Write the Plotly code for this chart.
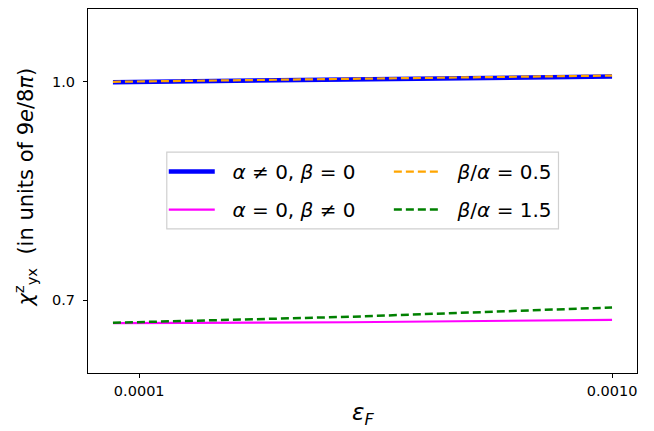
import plotly.graph_objects as go

eps_F = [0.00005, 0.0005, 0.001]
chi_alpha_only = [0.9995, 1.0038, 1.0073]
chi_beta_only = [0.6685, 0.6697, 0.6731]
chi_ratio_05 = [1.0000, 1.0043, 1.0086]
chi_ratio_15 = [0.6690, 0.6772, 0.6900]

x_ticks = [0.0001, 0.0010]
x_tick_labels = ["0.0001", "0.0010"]
y_ticks = [0.7, 1.0]
y_tick_labels = ["0.7", "1.0"]

SP = "\u00a0\u00a0"
names = {
    "a": SP + "<i>α</i> ≠ 0, <i>β</i> = 0",
    "b": SP + "<i>α</i> = 0, <i>β</i> ≠ 0",
    "c": SP + "<i>β</i>/<i>α</i> = 0.5",
    "d": SP + "<i>β</i>/<i>α</i> = 1.5",
}
x_title = "<i>ε<sub>F</sub></i>"
y_title = "<i>χ</i><sup>z</sup><sub>yx</sub>  (in units of 9<i>e</i>/8<i>π</i>)"

FONT = "DejaVu Sans"
fig = go.Figure()
fig.add_trace(go.Scatter(x=eps_F, y=chi_alpha_only, mode="lines", name=names["a"],
                         line=dict(color="#0000ff", width=4.5), legend="legend", legendgroup="a"))
fig.add_trace(go.Scatter(x=eps_F, y=chi_beta_only, mode="lines", name=names["b"],
                         line=dict(color="#ff00ff", width=2.2), legend="legend", legendgroup="b"))
fig.add_trace(go.Scatter(x=eps_F, y=chi_ratio_05, mode="lines", name=names["c"],
                         line=dict(color="#ffa500", width=2.2, dash="8px,4px"), legend="legend2", legendgroup="c"))
fig.add_trace(go.Scatter(x=eps_F, y=chi_ratio_15, mode="lines", name=names["d"],
                         line=dict(color="#008000", width=2.5, dash="8px,4px"), legend="legend2", legendgroup="d"))

leg_common = dict(bgcolor="rgba(0,0,0,0)", borderwidth=0, font=dict(family=FONT, size=20, color="black"),
                  tracegroupgap=9, itemwidth=46, yanchor="top", xanchor="left")
axis_common = dict(showgrid=False, zeroline=False, showline=True, linecolor="black", linewidth=1.2,
                   mirror=True, ticks="outside", ticklen=4, tickcolor="black", automargin=False,
                   tickfont=dict(family=FONT, size=14.5))
fig.update_layout(
    width=654, height=431,
    margin=dict(l=88, r=17, t=9, b=58, autoexpand=False),
    paper_bgcolor="white", plot_bgcolor="white",
    font=dict(family=FONT, color="black"),
    legend=dict(x=0.138, y=0.607, **leg_common),
    legend2=dict(x=0.548, y=0.607, **leg_common),
    xaxis=dict(range=[0.0000025, 0.0010475], tickvals=x_ticks, ticktext=x_tick_labels, **axis_common),
    yaxis=dict(range=[0.6, 1.1], tickvals=y_ticks, ticktext=y_tick_labels, ticklabelstandoff=5, **axis_common),
    annotations=[
        dict(text=x_title, xref="paper", yref="paper", x=0.5, y=-0.112, xanchor="center", yanchor="middle",
             showarrow=False, font=dict(family=FONT, size=23)),
        dict(text=y_title, xref="paper", yref="paper", x=-0.115, y=0.512, xanchor="center", yanchor="middle",
             textangle=-90, showarrow=False, font=dict(family=FONT, size=21)),
    ],
    shapes=[dict(type="rect", xref="paper", yref="paper", x0=0.1435, x1=0.857, y0=0.396, y1=0.607,
                 fillcolor="white", line=dict(color="#d0d0d0", width=1.2), layer="below")],
)

fig.write_html("out.html", config={"displayModeBar": False},
               post_script="document.body.style.margin='0';")
